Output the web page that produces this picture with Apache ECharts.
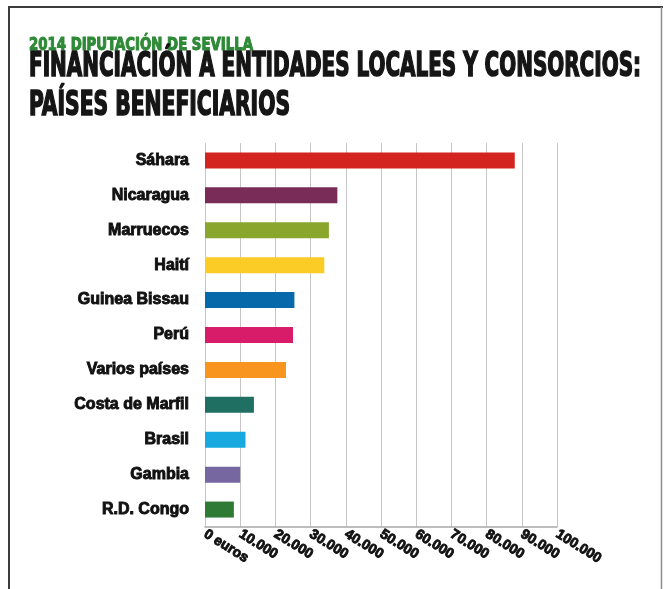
<!DOCTYPE html>
<html>
<head>
<meta charset="utf-8">
<script src="https://cdn.jsdelivr.net/npm/echarts@6/dist/echarts.min.js"></script>
<style>
html,body{margin:0;padding:0;background:#fff;}
#chart{width:665px;height:589px;}
</style>
</head>
<body>
<div id="chart"></div>
<script>
// ---- data ----
var categories = ['Sáhara','Nicaragua','Marruecos','Haití','Guinea Bissau','Perú','Varios países','Costa de Marfil','Brasil','Gambia','R.D. Congo'];
var values = [88000, 37600, 35200, 33900, 25400, 25000, 23000, 13900, 11500, 10000, 8200];
var barColors = ['#d42420','#7a2c58','#8aa62c','#fbcb26','#0669a9','#d81c6a','#f7951f','#1f6f62','#17a9df','#7667a0','#2f7a34'];
var tickLabels = ['0 euros','10.000','20.000','30.000','40.000','50.000','60.000','70.000','80.000','90.000','100.000'];
var supTitle = '2014 DIPUTACIÓN DE SEVILLA';
var titleLine1 = 'FINANCIACIÓN A ENTIDADES LOCALES Y CONSORCIOS:';
var titleLine2 = 'PAÍSES BENEFICIARIOS';

// ---- font helpers ----
var mctx = document.createElement('canvas').getContext('2d');
function hasFont(name){
  var s='abcdefghijklmnopqrstuvwxyzABCDEFGHIJKLMNOP0123456789';
  mctx.font='bold 40px monospace'; var w1=mctx.measureText(s).width;
  mctx.font='bold 40px "'+name+'", monospace'; var w2=mctx.measureText(s).width;
  return Math.abs(w1-w2)>0.5;
}
var narrow = ['Liberation Sans Narrow','DejaVu Sans Condensed','Liberation Sans'].filter(hasFont)[0] || 'sans-serif';
var labelFont = hasFont('Liberation Sans') ? 'Liberation Sans' : 'sans-serif';
function scaleFor(text, size, target){
  mctx.font = 'bold '+size+'px "'+narrow+'"';
  return target / mctx.measureText(text).width;
}

var chart = echarts.init(document.getElementById('chart'), null, {renderer:'canvas'});

function titleText(text, x, y, size, target, color, sw){
  return {
    type:'text', x:x, y:y, scaleX: scaleFor(text,size,target), scaleY:1,
    style:{ text:text, x:0, y:0, fill:color, font:'bold '+size+'px "'+narrow+'"',
      textAlign:'left', textVerticalAlign:'middle', verticalAlign:'middle',
      stroke:color, lineWidth:sw },
    z:10
  };
}

var option = {
  backgroundColor:'#ffffff',
  animation:false,
  grid:{ left:205, right:108, top:143, bottom:62, containLabel:false },
  xAxis:{
    type:'value', min:0, max:100000, interval:10000,
    axisLine:{ show:true, lineStyle:{ color:'#a8a8a8', width:1.5 } },
    axisTick:{ show:false },
    splitLine:{ show:true, lineStyle:{ color:'#c6c6c6', width:1 } },
    axisLabel:{
      rotate:-32, margin:6, color:'#111', fontFamily:labelFont, fontWeight:'bold', fontSize:14,
      textBorderColor:'#111', textBorderWidth:0.9,
      formatter:function(v){ return tickLabels[Math.round(v/10000)]; }
    }
  },
  yAxis:{
    type:'category', data:categories, inverse:true,
    axisLine:{ show:false }, axisTick:{ show:false }, splitLine:{ show:false },
    axisLabel:{ margin:16, color:'#111', fontFamily:labelFont, fontWeight:'bold', fontSize:16,
      textBorderColor:'#111', textBorderWidth:0.9 }
  },
  series:[{
    type:'bar', barWidth:16,
    data: values.map(function(v,i){ return { value:v, itemStyle:{ color:barColors[i] } }; })
  }],
  graphic:[
    { type:'line', shape:{x1:9,y1:6,x2:9,y2:589}, style:{stroke:'#3c3c3c', lineWidth:2} },
    { type:'line', shape:{x1:8,y1:7,x2:663,y2:7}, style:{stroke:'#3c3c3c', lineWidth:2} },
    { type:'line', shape:{x1:661.5,y1:7,x2:661.5,y2:589}, style:{stroke:'#8c8c8c', lineWidth:1.5} },
    titleText(supTitle, 29, 46, 17, 224, '#2e8a36', 1),
    titleText(titleLine1, 29, 67.5, 33, 612, '#151515', 1.6),
    titleText(titleLine2, 29, 106, 33, 261, '#151515', 1.6)
  ]
};
chart.setOption(option);
</script>
</body>
</html>
